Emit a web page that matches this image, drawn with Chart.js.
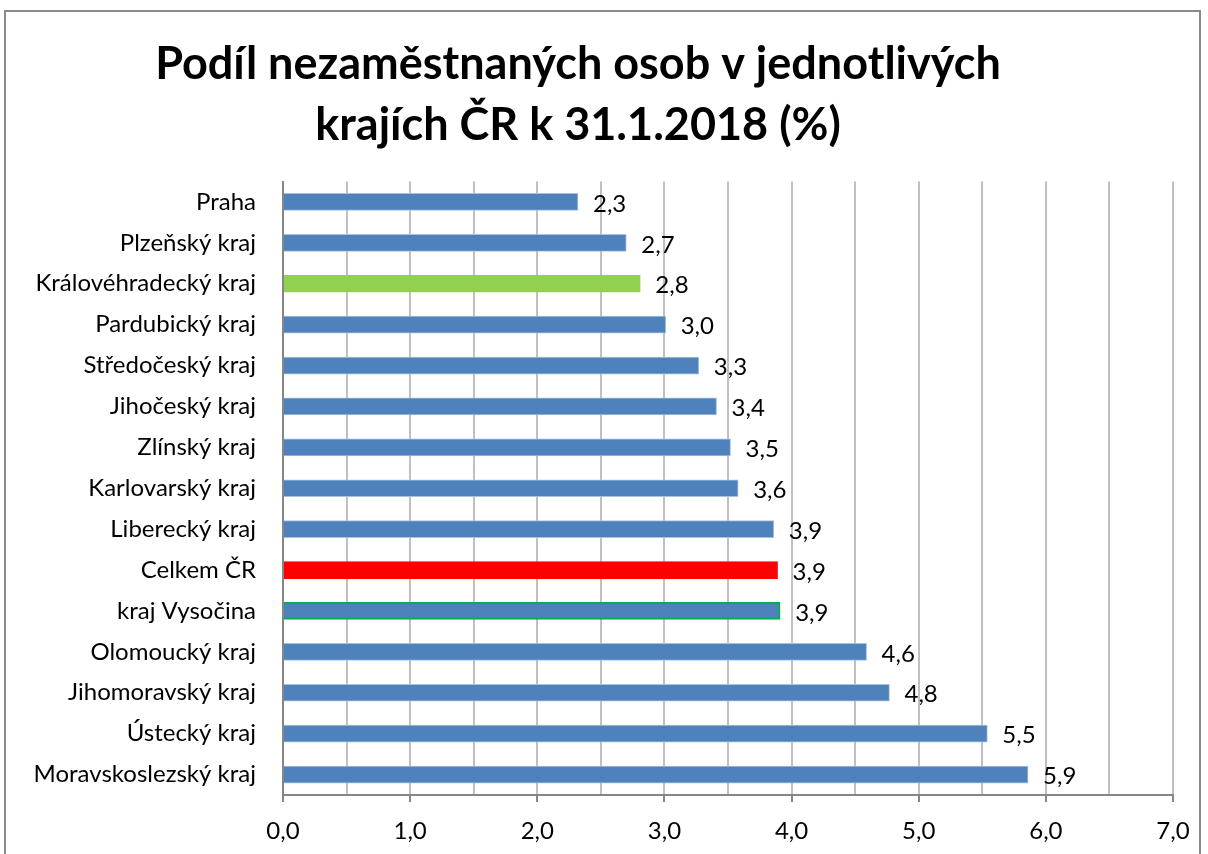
<!DOCTYPE html>
<html>
<head>
<meta charset="utf-8">
<script src="https://cdn.jsdelivr.net/npm/chart.js@4.4.1/dist/chart.umd.min.js"></script>
<style>
  html, body { margin: 0; padding: 0; background: #fff; overflow: hidden; }
  body { width: 1208px; height: 854px; position: relative; }
  #frame { position: absolute; left: 4px; top: 10px; width: 1197px; height: 900px; border: 2px solid #8a8a8a; box-sizing: border-box; }
  #chart { position: absolute; left: -17px; top: 0; }
</style>
</head>
<body>
<div id="frame"></div>
<canvas id="chart" width="1225" height="854"></canvas>
<script>
// data
const regions = ['Praha', 'Plzeňský kraj', 'Královéhradecký kraj', 'Pardubický kraj', 'Středočeský kraj',
  'Jihočeský kraj', 'Zlínský kraj', 'Karlovarský kraj', 'Liberecký kraj', 'Celkem ČR',
  'kraj Vysočina', 'Olomoucký kraj', 'Jihomoravský kraj', 'Ústecký kraj', 'Moravskoslezský kraj'];
const shares = [2.32, 2.70, 2.81, 3.01, 3.27, 3.41, 3.52, 3.58, 3.86, 3.89, 3.91, 4.59, 4.77, 5.54, 5.86];
const shareLabels = ['2,3', '2,7', '2,8', '3,0', '3,3', '3,4', '3,5', '3,6', '3,9', '3,9', '3,9', '4,6', '4,8', '5,5', '5,9'];

const blue = '#4f81bd';
const fills = regions.map(r => r === 'Celkem ČR' ? '#ff0000' : (r === 'Královéhradecký kraj' ? '#92d050' : blue));
const edges = regions.map(r => r === 'kraj Vysočina' ? '#00b050' : (r === 'Celkem ČR' ? '#ff0000' : (r === 'Královéhradecký kraj' ? '#92d050' : '#a9c0df')));
const edgeWidths = regions.map(r => r === 'kraj Vysočina' ? 2 : 1);

const fontName = 'Lato, "Liberation Sans", sans-serif';

// value labels at bar ends
const valueLabels = {
  id: 'valueLabels',
  afterDatasetsDraw(chart) {
    const ctx = chart.ctx;
    const meta = chart.getDatasetMeta(0);
    ctx.save();
    ctx.font = '24px ' + fontName;
    ctx.fillStyle = '#000';
    ctx.textBaseline = 'middle';
    ctx.textAlign = 'left';
    meta.data.forEach((bar, i) => {
      ctx.fillText(shareLabels[i], bar.x + 15, bar.y + 2);
    });
    ctx.restore();
  }
};

new Chart(document.getElementById('chart'), {
  type: 'bar',
  data: {
    labels: regions,
    datasets: [{
      data: shares,
      backgroundColor: fills,
      borderColor: edges,
      borderWidth: edgeWidths,
      barThickness: 17
    }]
  },
  options: {
    indexAxis: 'y',
    responsive: false,
    animation: false,
    devicePixelRatio: 1,
    layout: { padding: { left: 0, right: 35, top: 0, bottom: 0 } },
    plugins: {
      legend: { display: false },
      tooltip: { enabled: false },
      title: {
        display: true,
        text: ['Podíl nezaměstnaných osob v jednotlivých', 'krajích ČR k 31.1.2018 (%)'],
        color: '#000',
        font: { family: fontName, size: 45, weight: 'bold', lineHeight: 1.35 },
        padding: { top: 34, bottom: 26 }
      }
    },
    scales: {
      x: {
        min: 0,
        max: 7,
        afterFit(scale) { scale.height = 59; },
        ticks: {
          stepSize: 0.5,
          autoSkip: false,
          maxRotation: 0,
          color: '#000',
          padding: 15,
          font: { family: fontName, size: 24 },
          callback: v => (v % 1 === 0 ? v.toFixed(1).replace('.', ',') : '')
        },
        grid: {
          color: '#c0c0c0',
          lineWidth: 2,
          tickLength: 7,
          tickColor: c => (c.tick && c.tick.value % 1 === 0 ? '#868686' : 'rgba(0,0,0,0)')
        },
        border: { color: '#868686', width: 2 }
      },
      y: {
        afterFit(scale) { scale.width = 300; },
        ticks: {
          color: '#000',
          padding: 27,
          font: { family: fontName, size: 24 }
        },
        grid: { display: false, drawTicks: false },
        border: { color: '#868686', width: 2 }
      }
    }
  },
  plugins: [valueLabels]
});
</script>
</body>
</html>
